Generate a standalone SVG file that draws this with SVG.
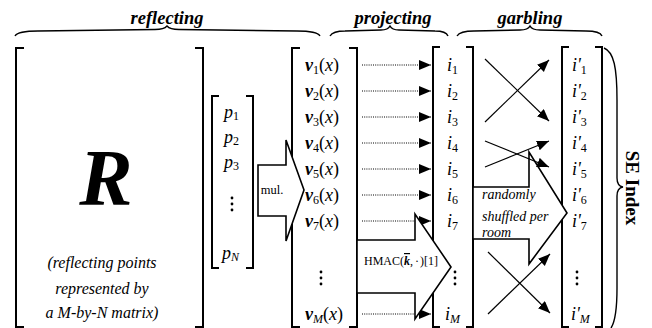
<svg xmlns="http://www.w3.org/2000/svg" width="652" height="328" viewBox="0 0 652 328">
<style>
text{font-family:"Liberation Serif","Times New Roman",serif;fill:#000}
.br{fill:none;stroke:#000;stroke-width:2}
.brace{fill:none;stroke:#000;stroke-width:1.4}
.lbl{font-size:18.5px;font-weight:bold;font-style:italic}
.m{font-size:18px}
.bi{font-weight:bold;font-style:italic}
.it{font-style:italic}
.sub{font-size:12px}
.dot{stroke:#000;stroke-width:1;stroke-dasharray:1 1.2;fill:none}
.cross{stroke:#000;stroke-width:1.2;fill:none}
.big{fill:#fff;stroke:#000;stroke-width:1.6;stroke-linejoin:miter}
.rt{font-size:16px;font-style:italic}
</style>
<defs>
<marker id="ah" markerUnits="userSpaceOnUse" markerWidth="14" markerHeight="12" refX="12" refY="5" orient="auto">
<path d="M0,0 L12,5 L0,10 Z" fill="#000"/>
</marker>
<g id="vd"><circle cx="0" cy="0" r="1.4"/><circle cx="0" cy="6" r="1.4"/><circle cx="0" cy="12" r="1.4"/></g>
</defs>

<g id="labels">
<text class="lbl" x="167" y="24" text-anchor="middle">reflecting</text>
<path class="brace" d="M15,36 Q18,31 38,31 L155,29.5 Q164,29.5 167,26 Q170,29.5 179,29.5 L297,31 Q317,31 320,36"/>
<text class="lbl" x="393" y="24" text-anchor="middle">projecting</text>
<path class="brace" d="M330,36 Q333,31 345,31 L381,30 Q388,30 390,26 Q392,30 399,30 L435,31 Q446,31 448,36"/>
<text class="lbl" x="530" y="24" text-anchor="middle">garbling</text>
<path class="brace" d="M457,36 Q460,31 474,31 L520,30 Q528,30 530,26 Q532,30 540,30 L586,31 Q600,31 602,36"/>
</g>

<g id="R">
<path class="br" d="M24,48 H16 V327 H24"/>
<path class="br" d="M195,48 H203 V327 H195"/>
<text x="106" y="205" text-anchor="middle" font-size="80" class="bi">R</text>
<text class="rt" x="102" y="268" text-anchor="middle">(reflecting points</text>
<text class="rt" x="102" y="294" text-anchor="middle">represented by</text>
<text class="rt" x="102" y="318" text-anchor="middle">a M-by-N matrix)</text>
</g>

<g id="p">
<path class="br" d="M219,96 H212 V268 H219"/>
<path class="br" d="M246,96 H253 V268 H246"/>
<text class="m it" x="224" y="118">p<tspan class="sub" font-style="normal" dy="2">1</tspan></text>
<text class="m it" x="224" y="143">p<tspan class="sub" font-style="normal" dy="2">2</tspan></text>
<text class="m it" x="224" y="168">p<tspan class="sub" font-style="normal" dy="2">3</tspan></text>
<use href="#vd" x="232" y="198"/>
<text class="m it" x="222" y="259">p<tspan class="sub" dy="2">N</tspan></text>
</g>

<g id="v">
<path class="br" d="M300,48 H292 V327 H300"/>
<path class="br" d="M349,48 H357 V327 H349"/>
<text class="m" x="305" y="71"><tspan class="bi">v</tspan><tspan class="sub" dy="3">1</tspan><tspan dy="-3">(</tspan><tspan class="it">x</tspan>)</text>
<text class="m" x="305" y="97"><tspan class="bi">v</tspan><tspan class="sub" dy="3">2</tspan><tspan dy="-3">(</tspan><tspan class="it">x</tspan>)</text>
<text class="m" x="305" y="123"><tspan class="bi">v</tspan><tspan class="sub" dy="3">3</tspan><tspan dy="-3">(</tspan><tspan class="it">x</tspan>)</text>
<text class="m" x="305" y="149"><tspan class="bi">v</tspan><tspan class="sub" dy="3">4</tspan><tspan dy="-3">(</tspan><tspan class="it">x</tspan>)</text>
<text class="m" x="305" y="175"><tspan class="bi">v</tspan><tspan class="sub" dy="3">5</tspan><tspan dy="-3">(</tspan><tspan class="it">x</tspan>)</text>
<text class="m" x="305" y="201"><tspan class="bi">v</tspan><tspan class="sub" dy="3">6</tspan><tspan dy="-3">(</tspan><tspan class="it">x</tspan>)</text>
<text class="m" x="305" y="227"><tspan class="bi">v</tspan><tspan class="sub" dy="3">7</tspan><tspan dy="-3">(</tspan><tspan class="it">x</tspan>)</text>
<use href="#vd" x="321" y="272"/>
<text class="m" x="305" y="320"><tspan class="bi">v</tspan><tspan class="sub it" dy="3">M</tspan><tspan dy="-3">(</tspan><tspan class="it">x</tspan>)</text>
</g>

<g id="i">
<path class="br" d="M440,47 H433 V327 H440"/>
<path class="br" d="M466,47 H473 V327 H466"/>
<text class="m it" x="447" y="71">i<tspan class="sub" font-style="normal" dy="3">1</tspan></text>
<text class="m it" x="447" y="97">i<tspan class="sub" font-style="normal" dy="3">2</tspan></text>
<text class="m it" x="447" y="123">i<tspan class="sub" font-style="normal" dy="3">3</tspan></text>
<text class="m it" x="447" y="149">i<tspan class="sub" font-style="normal" dy="3">4</tspan></text>
<text class="m it" x="447" y="175">i<tspan class="sub" font-style="normal" dy="3">5</tspan></text>
<text class="m it" x="447" y="201">i<tspan class="sub" font-style="normal" dy="3">6</tspan></text>
<text class="m it" x="447" y="227">i<tspan class="sub" font-style="normal" dy="3">7</tspan></text>
<use href="#vd" x="455" y="272"/>
<text class="m it" x="445" y="320">i<tspan class="sub" dy="3">M</tspan></text>
</g>

<g id="ip">
<path class="br" d="M569,47 H562 V327 H569"/>
<path class="br" d="M595,47 H602 V327 H595"/>
<text class="m it" x="572" y="71">i'<tspan class="sub" font-style="normal" dy="3">1</tspan></text>
<text class="m it" x="572" y="97">i'<tspan class="sub" font-style="normal" dy="3">2</tspan></text>
<text class="m it" x="572" y="123">i'<tspan class="sub" font-style="normal" dy="3">3</tspan></text>
<text class="m it" x="572" y="149">i'<tspan class="sub" font-style="normal" dy="3">4</tspan></text>
<text class="m it" x="572" y="175">i'<tspan class="sub" font-style="normal" dy="3">5</tspan></text>
<text class="m it" x="572" y="201">i'<tspan class="sub" font-style="normal" dy="3">6</tspan></text>
<text class="m it" x="572" y="227">i'<tspan class="sub" font-style="normal" dy="3">7</tspan></text>
<use href="#vd" x="577" y="272"/>
<text class="m it" x="571" y="320">i'<tspan class="sub" dy="3">M</tspan></text>
</g>

<g id="se">
<path class="brace" d="M604,48 C614,52 617,68 617,100 L617,178 Q617,186 623,187 Q617,188 617,196 L617,288 C617,312 615,322 611,328"/>
<text transform="translate(626,188) rotate(90)" text-anchor="middle" font-size="19" font-weight="bold">SE Index</text>
</g>

<g id="connectors">
<line class="dot" x1="362" y1="65" x2="431" y2="65" marker-end="url(#ah)"/>
<line class="dot" x1="362" y1="91" x2="431" y2="91" marker-end="url(#ah)"/>
<line class="dot" x1="362" y1="117" x2="431" y2="117" marker-end="url(#ah)"/>
<line class="dot" x1="362" y1="143" x2="431" y2="143" marker-end="url(#ah)"/>
<line class="dot" x1="362" y1="169" x2="431" y2="169" marker-end="url(#ah)"/>
<line class="dot" x1="362" y1="195" x2="431" y2="195" marker-end="url(#ah)"/>
<line class="dot" x1="362" y1="221" x2="431" y2="221" marker-end="url(#ah)"/>
<line class="dot" x1="362" y1="314" x2="431" y2="314" marker-end="url(#ah)"/>

<g id="mul">
<polygon class="big" points="258,165 286,165 286,140 304,190 286,241 286,216 258,216"/>
<text x="272" y="194" font-size="12.5" text-anchor="middle">mul.</text>
</g>
<g id="hmac">
<polygon class="big" points="357,240 415,240 415,214 451,267 415,319 415,293 357,293"/>
<text x="364" y="265" font-size="12">HMAC(<tspan class="bi" text-decoration="overline">k</tspan>,<tspan dx="2">·</tspan><tspan dx="1">)[1]</tspan></text>
</g>
<g id="shuffle">
<polygon class="big" points="473,187 529,187 529,152 567,213 529,264 529,239 473,239"/>
<text class="it" x="482" y="199" font-size="14">randomly</text>
<text class="it" x="482" y="221" font-size="14">shuffled per</text>
<text class="it" x="482" y="237" font-size="14">room</text>
</g>

<line class="cross" x1="485" y1="59" x2="549" y2="121" marker-end="url(#ah)"/>
<line class="cross" x1="485" y1="122" x2="549" y2="60" marker-end="url(#ah)"/>
<line class="cross" x1="485" y1="141" x2="549" y2="167" marker-end="url(#ah)"/>
<line class="cross" x1="485" y1="167" x2="549" y2="141" marker-end="url(#ah)"/>
<line class="cross" x1="488" y1="252" x2="550" y2="313" marker-end="url(#ah)"/>
<line class="cross" x1="488" y1="314" x2="550" y2="254" marker-end="url(#ah)"/>
</g>
</svg>
